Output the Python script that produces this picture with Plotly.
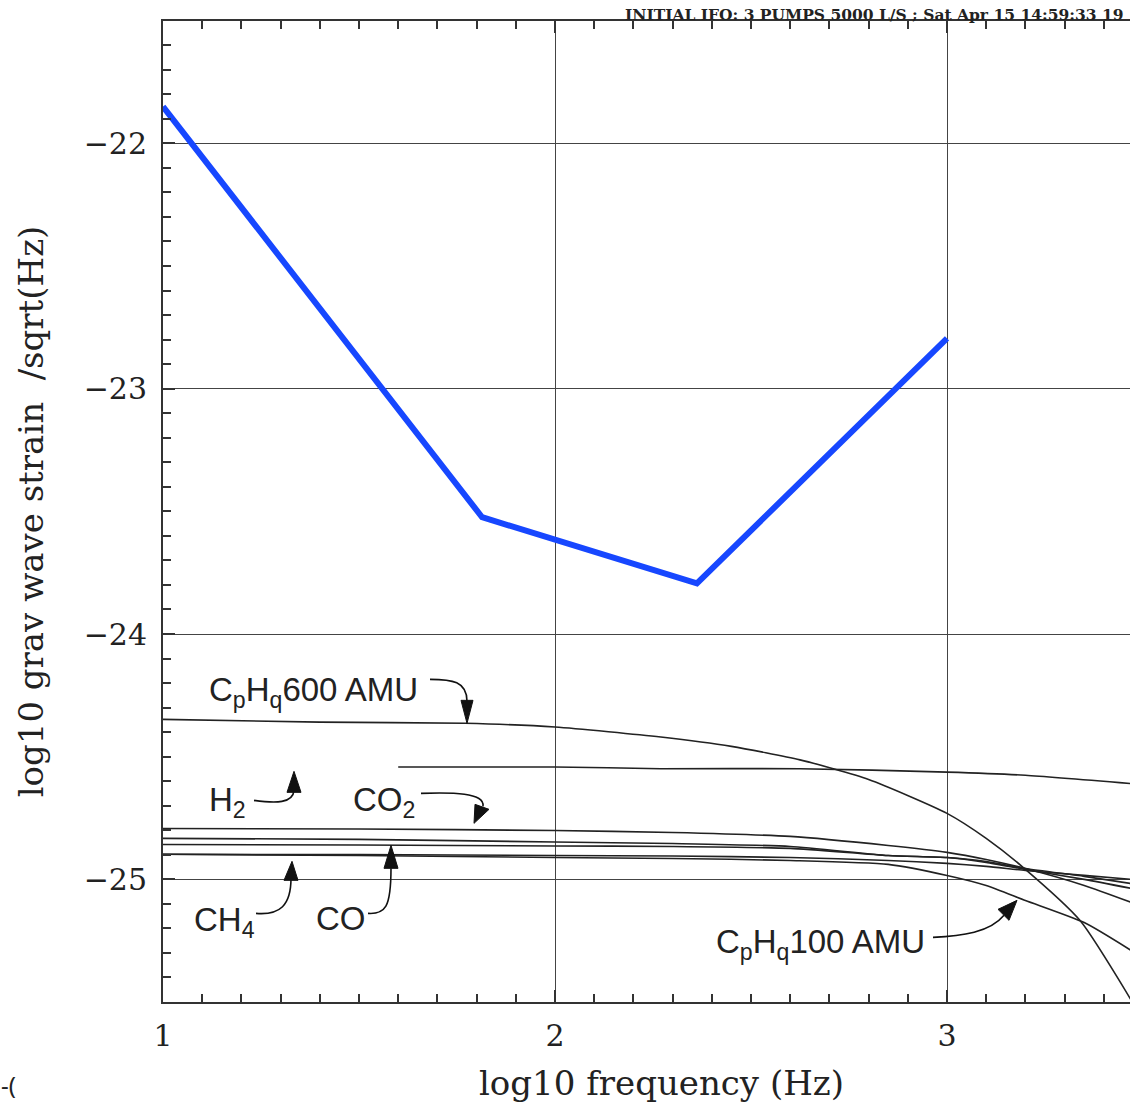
import plotly.graph_objects as go

# ---------------- data (log10 frequency, log10 strain) ----------------
blue_x = [1.0, 1.814, 2.362, 3.0]
blue_y = [-21.85, -23.524, -23.794, -22.795]

amu600_x = [1.0, 1.4, 1.77, 2.0, 2.27, 2.45, 2.625, 2.8, 3.0, 3.1, 3.194, 3.339, 3.47]
amu600_y = [-24.348, -24.359, -24.364, -24.379, -24.420, -24.458, -24.513, -24.593, -24.731,
            -24.833, -24.951, -25.167, -25.493]

upper_x = [1.6, 2.0, 2.27, 2.625, 3.0, 3.2, 3.47]
upper_y = [-24.542, -24.542, -24.549, -24.549, -24.563, -24.576, -24.610]

gas_x = [1.0, 1.5, 2.0, 2.3, 2.6, 2.85, 3.0, 3.1, 3.2, 3.35, 3.47]
co2_y = [-24.793, -24.795, -24.801, -24.809, -24.825, -24.862, -24.890, -24.919, -24.956, -25.025, -25.094]
h2_y = [-24.833, -24.837, -24.848, -24.854, -24.866, -24.903, -24.911, -24.931, -24.960, -25.000, -25.037]
co_y = [-24.858, -24.860, -24.864, -24.866, -24.874, -24.903, -24.911, -24.927, -24.956, -24.988, -25.017]
ch4_y = [-24.898, -24.899, -24.903, -24.905, -24.911, -24.923, -24.935, -24.947, -24.964, -24.984, -25.000]
amu100_y = [-24.898, -24.903, -24.911, -24.915, -24.923, -24.939, -24.984, -25.025, -25.086, -25.176, -25.290]

x_ticks = [1, 2, 3]
y_ticks = [-25, -24, -23, -22]

# ---------------- layout helpers (pixel -> data, for labels only) ----------------
def X(px):
    return 1 + (px - 163) / 392.0

def Y(py):
    return -22 - (py - 143) / 245.33

def P(px, py):
    return f"{X(px):.5f},{Y(py):.5f}"

fig = go.Figure()

LINE_COL = "#222222"
for xs, ys in [(amu600_x, amu600_y), (upper_x, upper_y), (gas_x, co2_y), (gas_x, h2_y),
               (gas_x, co_y), (gas_x, ch4_y), (gas_x, amu100_y)]:
    fig.add_trace(go.Scatter(x=xs, y=ys, mode="lines",
                             line=dict(color=LINE_COL, width=1.6, shape="spline", smoothing=0.6),
                             hoverinfo="skip", showlegend=False))

fig.add_trace(go.Scatter(x=blue_x, y=blue_y, mode="lines", line=dict(color="#1747FF", width=6),
                         showlegend=False))

# ---------------- curved arrows ----------------
arrows = [
    ("M 430,679 C 452,679 467,681 467,701", (467, 723), (461, 700), (473, 700)),
    ("M 254,800 C 276,803 293,803 294,790", (294, 771), (287, 792), (301, 792)),
    ("M 421,793 C 452,792 485,792 483,806", (474, 823), (475, 804), (489, 809)),
    ("M 256,913 C 280,915 291,905 291,878", (292, 861), (284, 880), (298, 880)),
    ("M 368,913 C 385,914 391,908 391,868", (391, 845), (384, 868), (398, 868)),
    ("M 933,937 C 962,936 990,932 1004,915", (1017, 900), (998, 909), (1009, 920)),
]

shapes = []
for path, tip, b1, b2 in arrows:
    tokens = path.replace("M", "").replace("C", "").split()
    pts = [tuple(float(v) for v in t.split(",")) for t in tokens]
    d = "M " + P(*pts[0]) + " C " + " ".join(P(*p) for p in pts[1:])
    shapes.append(dict(type="path", path=d, xref="x", yref="y",
                       line=dict(color="#111", width=1.6)))
    tri = "M " + P(*tip) + " L " + P(*b1) + " L " + P(*b2) + " Z"
    shapes.append(dict(type="path", path=tri, xref="x", yref="y",
                       line=dict(color="#111", width=1), fillcolor="#111"))

fig.update_layout(shapes=shapes)

# ---------------- labels ----------------
SANS = "Liberation Sans, Arial, sans-serif"
SERIF = "DejaVu Serif"
labels = [
    ("C<sub>p</sub>H<sub>q</sub>600 AMU", 207, 692),
    ("H<sub>2</sub>", 207, 802),
    ("CO<sub>2</sub>", 351, 802),
    ("CH<sub>4</sub>", 192, 922),
    ("CO", 314, 918),
    ("C<sub>p</sub>H<sub>q</sub>100 AMU", 714, 944),
]
for txt, px, py in labels:
    fig.add_annotation(x=X(px), y=Y(py), xref="x", yref="y", text=txt, showarrow=False,
                       xanchor="left", yanchor="middle",
                       font=dict(family=SANS, size=33, color="#222"))

fig.add_annotation(x=(1126 - 163) / 967, y=(1002 - 15) / 981, xref="paper", yref="paper",
                   text="<b>INITIAL IFO: 3 PUMPS 5000 L/S ; Sat Apr 15 14:59:33 19</b>",
                   showarrow=False, xanchor="right", yanchor="middle",
                   font=dict(family=SERIF, size=15.5, color="#222"))

fig.add_annotation(x=(-1 - 163) / 967, y=(1002 - 1084) / 981, xref="paper", yref="paper",
                   text="-(", showarrow=False, xanchor="left", yanchor="middle",
                   font=dict(family="Noto Sans", size=24, color="#222"))

# x-axis title placed as annotation (centred where the reference shows it)
fig.add_annotation(x=(661 - 163) / 967, y=(1002 - 1083) / 981, xref="paper", yref="paper",
                   text="log10 frequency (Hz)", showarrow=False, xanchor="center", yanchor="middle",
                   font=dict(family=SERIF, size=34, color="#222"))

fig.update_layout(
    width=1130, height=1105,
    margin=dict(l=163, r=0, t=21, b=103),
    paper_bgcolor="white", plot_bgcolor="white",
    showlegend=False,
    xaxis=dict(
        range=[1, 1 + 967 / 392.0], tickvals=x_ticks, ticktext=[str(v) for v in x_ticks],
        showgrid=True, gridcolor="#444", gridwidth=1, zeroline=False,
        showline=True, linecolor="#333", linewidth=2, mirror="ticks",
        ticks="inside", ticklen=12, tickwidth=1.5, tickcolor="#333",
        minor=dict(dtick=0.1, ticks="inside", ticklen=8, tickwidth=1.5, tickcolor="#333", showgrid=False),
        tickfont=dict(family=SERIF, size=30, color="#222"),
        ticklabelstandoff=6,
    ),
    yaxis=dict(
        range=[-25.5, -25.5 + 981 / 245.33], tickvals=y_ticks,
        showgrid=True, gridcolor="#444", gridwidth=1, zeroline=False,
        showline=True, linecolor="#333", linewidth=2, mirror=False,
        ticks="inside", ticklen=12, tickwidth=1.5, tickcolor="#333",
        minor=dict(dtick=0.1, ticks="inside", ticklen=8, tickwidth=1.5, tickcolor="#333", showgrid=False),
        tickfont=dict(family=SERIF, size=30, color="#222"),
        ticklabelstandoff=8,
        title=dict(text="log10 grav wave strain \u00a0/sqrt(Hz)", font=dict(family=SERIF, size=34, color="#222"), standoff=30),
    ),
)

fig.write_html("out.html", post_script="document.body.style.margin='0';",
               config={"displayModeBar": False})
